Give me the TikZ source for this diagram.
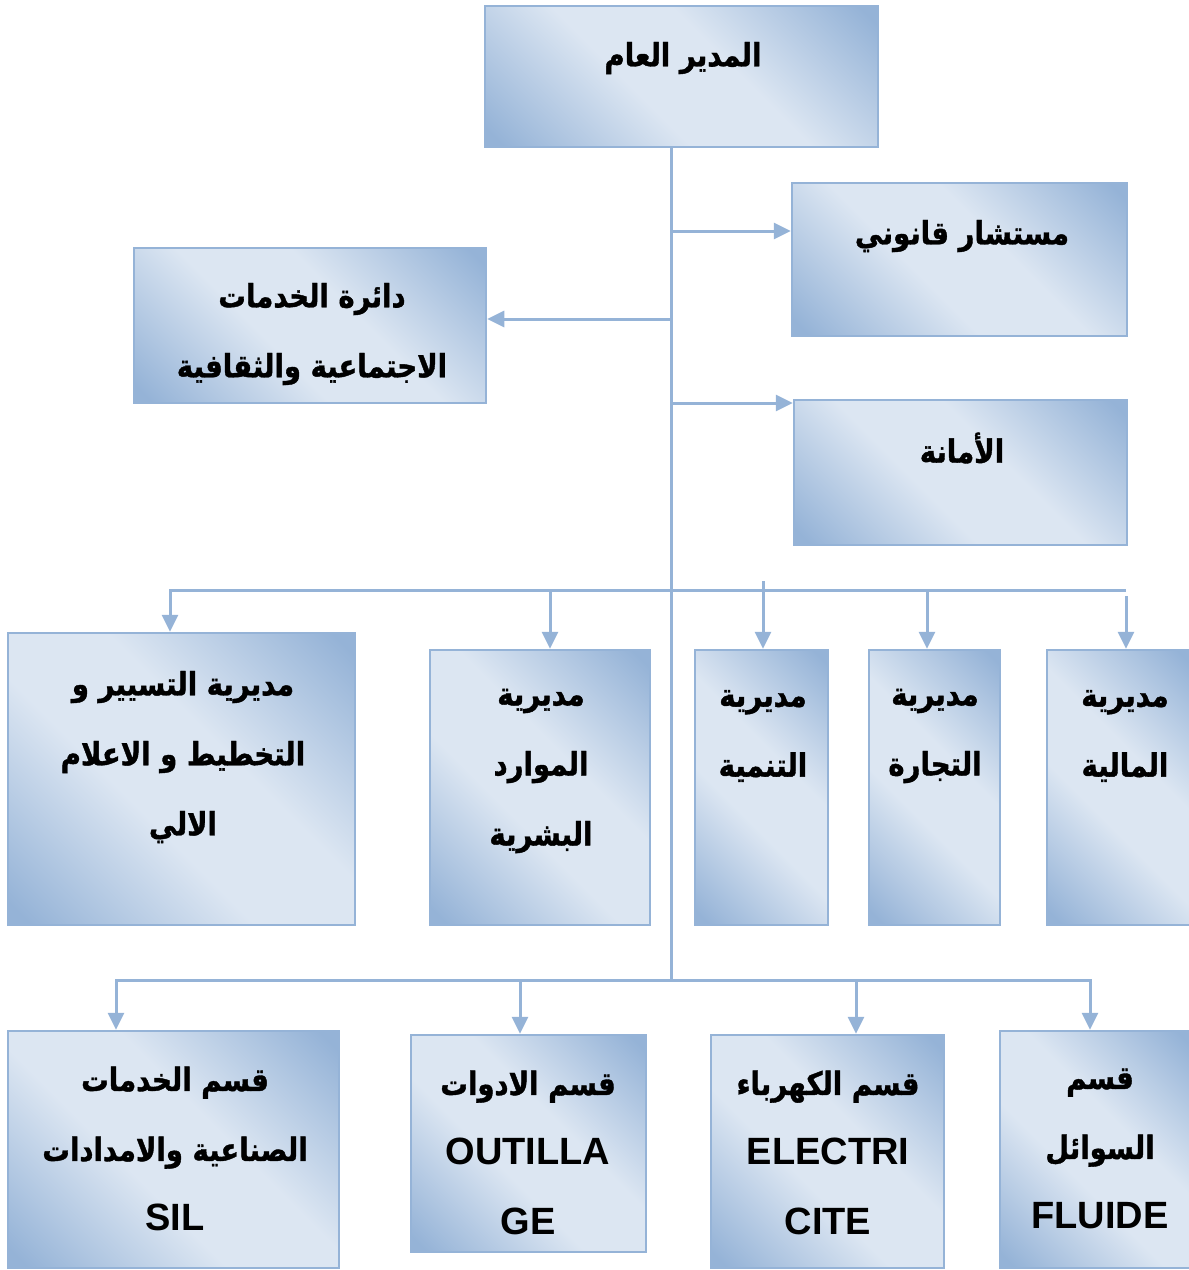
\documentclass[tikz,border=0pt]{standalone}
\usepackage{fontspec}
\setmainfont{Liberation Sans}
\newfontfamily\arabicfont[Script=Arabic, FakeStretch=0.86, FakeBold=1.2]{DejaVu Sans}
\newfontfamily\latinfont{Liberation Sans}
\TeXXeTstate=1
\usetikzlibrary{arrows.meta}
\definecolor{orgblue}{HTML}{95B3D7}
\definecolor{orglight}{HTML}{DCE6F2}
\pgfdeclareverticalshading{orgshade}{100bp}{color(0bp)=(orgblue); color(17bp)=(orgblue); color(42bp)=(orglight); color(58bp)=(orglight); color(83bp)=(orgblue); color(100bp)=(orgblue)}
\newcommand{\ar}[1]{\beginR #1\endR}
\newcommand{\lt}[1]{{\latinfont\bfseries\fontsize{38}{70}\selectfont #1}}
\tikzset{
  box/.style={draw=orgblue, line width=2.5pt, shading=orgshade, shading angle=-45, inner sep=0pt},
  txt/.style={font=\arabicfont\bfseries\fontsize{32}{70}\selectfont, align=center, inner sep=0pt},
  conn/.style={draw=orgblue, line width=3pt},
  arr/.style={conn, -{Triangle[width=16pt,length=17pt]}}
}
\begin{document}
\begin{tikzpicture}[x=1pt,y=-1pt]
\useasboundingbox (0,0) rectangle (1189,1270);
% boxes
\node[box, minimum width=393, minimum height=141] (top) at (681.5,76.5) {};
\node[box, minimum width=335, minimum height=153] (legal) at (959.5,259.5) {};
\node[box, minimum width=352, minimum height=155] (social) at (310,325.5) {};
\node[box, minimum width=333, minimum height=145] (secr) at (960.5,472.5) {};
\node[box, minimum width=347, minimum height=292] (plan) at (181.5,779) {};
\node[box, minimum width=220, minimum height=275] (hr) at (540,787.5) {};
\node[box, minimum width=133, minimum height=275] (dev) at (761.5,787.5) {};
\node[box, minimum width=131, minimum height=275] (trade) at (934.5,787.5) {};
\node[box, minimum width=145, minimum height=275] (fin) at (1119.5,787.5) {};
\node[box, minimum width=331, minimum height=237] (sil) at (173.5,1149.5) {};
\node[box, minimum width=235, minimum height=217] (tool) at (528.5,1143.5) {};
\node[box, minimum width=233, minimum height=233] (elec) at (827.5,1151.5) {};
\node[box, minimum width=192, minimum height=237] (fluid) at (1096,1149.5) {};
% labels
\node[txt] (t-top) at (683,58) {\ar{المدير العام}};
\node[txt] (t-legal) at (962,236) {\ar{مستشار قانوني}};
\node[txt] (t-social) at (312,334) {\ar{دائرة الخدمات}\\ \ar{الاجتماعية والثقافية}};
\node[txt] (t-secr) at (962,448) {\ar{الأمانة}};
\node[txt] (t-plan) at (183,757) {\ar{مديرية التسيير و}\\ \ar{التخطيط و الاعلام}\\ \ar{الالي}};
\node[txt] (t-hr) at (541,771) {\ar{مديرية}\\ \ar{الموارد}\\ \ar{البشرية}};
\node[txt] (t-dev) at (763,736) {\ar{مديرية}\\ \ar{التنمية}};
\node[txt] (t-trade) at (935,736) {\ar{مديرية}\\ \ar{التجارة}};
\node[txt] (t-fin) at (1125,736) {\ar{مديرية}\\ \ar{المالية}};
\node[txt] (t-sil) at (175,1149) {\ar{قسم الخدمات}\\ \ar{الصناعية والامدادات}\\ \lt{SIL}};
\node[txt] (t-tool) at (528,1153) {\ar{قسم الادوات}\\ \lt{OUTILLA}\\ \lt{GE}};
\node[txt] (t-elec) at (828,1153) {\ar{قسم الكهرباء}\\ \lt{ELECTRI}\\ \lt{CITE}};
\node[txt] (t-fluid) at (1100,1149) {\ar{قسم}\\ \ar{السوائل}\\ \lt{FLUIDE}};
% trunk
\coordinate (trunk) at (671,980);
\draw[conn] (trunk |- top.south) -- (trunk);
% side branches
\coordinate (j1) at (671,231);
\coordinate (j2) at (671,319);
\coordinate (j3) at (671,403);
\draw[arr] (j1) -- (j1 -| legal.west);
\draw[arr] (j2) -- (j2 -| social.east);
\draw[arr] (j3) -- (j3 -| secr.west);
% directorates bus
\coordinate (b3L) at (170,590);
\coordinate (b3R) at (1126,590);
\coordinate (d3a) at (550,590);
\coordinate (d3b) at (763,581);
\coordinate (d3c) at (927,590);
\coordinate (d3d) at (1126,596);
\draw[arr] (b3R) -- (b3L) -- (b3L |- plan.north);
\draw[arr] (d3a) -- (d3a |- hr.north);
\draw[arr] (d3b) -- (d3b |- dev.north);
\draw[arr] (d3c) -- (d3c |- trade.north);
\draw[arr] (d3d) -- (d3d |- fin.north);
% departments bus
\coordinate (b4L) at (116,980);
\coordinate (b4R) at (1090,980);
\coordinate (d4a) at (520,980);
\coordinate (d4b) at (856,980);
\draw[arr] (b4R) -- (b4L) -- (b4L |- sil.north);
\draw[arr] (b4L) -- (b4R) -- (b4R |- fluid.north);
\draw[arr] (d4a) -- (d4a |- tool.north);
\draw[arr] (d4b) -- (d4b |- elec.north);
\end{tikzpicture}
\end{document}
